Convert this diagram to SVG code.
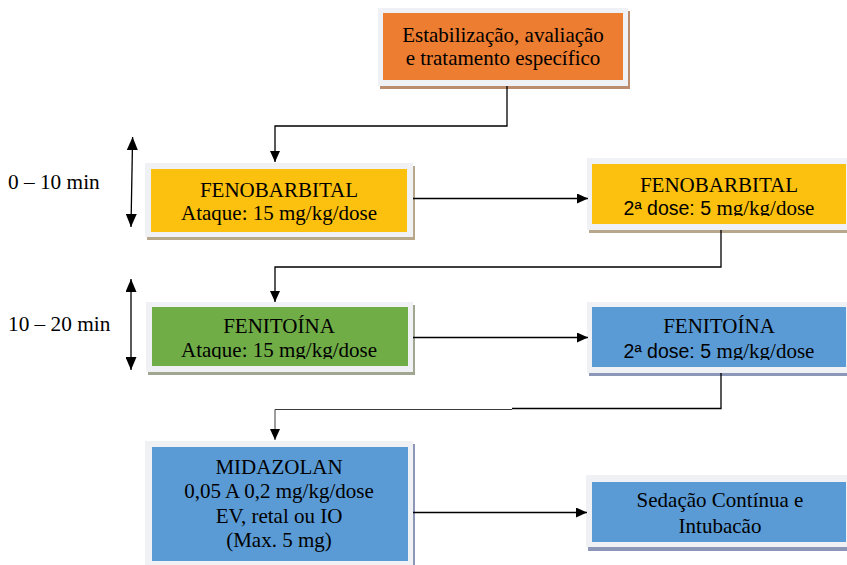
<svg xmlns="http://www.w3.org/2000/svg" width="847" height="565" viewBox="0 0 847 565">
  <style>
    .frame { fill: #eff1f4; }
    .t { font-family: "Liberation Serif", "Times New Roman", serif; font-size: 21px; fill: #000; text-anchor: middle; }
    .sans { font-family: "Liberation Sans", Arial, sans-serif; font-size: 19.5px; }
    .side { font-family: "Liberation Serif", "Times New Roman", serif; font-size: 21.3px; fill: #000; }
    .edge { fill: none; stroke: #000; stroke-width: 1.3; }
  </style>
  <defs>
    <marker id="arrow" viewBox="0 0 11 10" refX="11" refY="5" markerWidth="11" markerHeight="10" markerUnits="userSpaceOnUse" orient="auto-start-reverse">
      <path d="M0,0 L11,5 L0,10 Z" fill="#000"/>
    </marker>
    <marker id="arrowTall" viewBox="0 0 13 11" refX="13" refY="5.5" markerWidth="13" markerHeight="11" markerUnits="userSpaceOnUse" orient="auto-start-reverse">
      <path d="M0,0 L13,5.5 L0,11 Z" fill="#000"/>
    </marker>
    <clipPath id="clipFenoDose"><rect x="592" y="164" width="254" height="52"/></clipPath>
    <clipPath id="clipFeniAtaque"><rect x="152" y="307" width="256" height="52"/></clipPath>
    <clipPath id="clipFeniDose"><rect x="592" y="307" width="254" height="53"/></clipPath>
  </defs>

  <rect width="847" height="565" fill="#ffffff"/>

  <!-- time scale -->
  <g id="time-0-10">
    <text class="side" x="8" y="189">0 – 10 min</text>
    <line class="edge" x1="132.6" y1="137" x2="131" y2="227" marker-start="url(#arrowTall)" marker-end="url(#arrowTall)"/>
  </g>
  <g id="time-10-20">
    <text class="side" x="8" y="331">10 – 20 min</text>
    <line class="edge" x1="131" y1="279" x2="131" y2="370" marker-start="url(#arrowTall)" marker-end="url(#arrowTall)"/>
  </g>

  <!-- nodes -->
  <g id="estabilizacao">
    <rect x="380" y="11" width="250" height="78" fill="#bb8c6e"/>
    <rect class="frame" x="378" y="8" width="250" height="78"/>
    <rect x="383" y="13" width="240" height="67" fill="#ed7d31"/>
    <text class="t" x="503" y="42">Estabilização, avaliação</text>
    <text class="t" x="503" y="65">e tratamento específico</text>
  </g>

  <g id="fenobarbital-ataque">
    <rect x="147" y="166" width="268" height="74" fill="#b7a78b"/>
    <rect class="frame" x="145" y="163" width="268" height="74"/>
    <rect x="151" y="169" width="256" height="63" fill="#fcc00f"/>
    <text class="t" x="279" y="197">FENOBARBITAL</text>
    <text class="t" x="279" y="220">Ataque: 15 mg/kg/dose</text>
  </g>

  <g id="fenobarbital-dose2">
    <rect x="589" y="161" width="264" height="72" fill="#b7a78b"/>
    <rect class="frame" x="587" y="158" width="264" height="72"/>
    <rect x="592" y="164" width="254" height="60" fill="#fcc00f"/>
    <text class="t" x="719" y="192">FENOBARBITAL</text>
    <text class="t" x="719" y="215" clip-path="url(#clipFenoDose)"><tspan class="sans">2ª dose: 5 </tspan>mg/kg/dose</text>
  </g>

  <g id="fenitoina-ataque">
    <rect x="148" y="305" width="267" height="70" fill="#a0a690"/>
    <rect class="frame" x="146" y="302" width="267" height="70"/>
    <rect x="152" y="307" width="256" height="59" fill="#70ad47"/>
    <text class="t" x="279" y="333">FENITOÍNA</text>
    <text class="t" x="279" y="357" clip-path="url(#clipFeniAtaque)">Ataque: 15 mg/kg/dose</text>
  </g>

  <g id="fenitoina-dose2">
    <rect x="589" y="305" width="264" height="71" fill="#8c97b8"/>
    <rect class="frame" x="587" y="302" width="264" height="71"/>
    <rect x="592" y="307" width="254" height="60" fill="#5b9bd5"/>
    <text class="t" x="719" y="333">FENITOÍNA</text>
    <text class="t" x="719" y="358" clip-path="url(#clipFeniDose)"><tspan class="sans">2ª dose: 5 </tspan>mg/kg/dose</text>
  </g>

  <g id="midazolan">
    <rect x="147" y="444" width="268" height="125" fill="#8c97b8"/>
    <rect class="frame" x="145" y="441" width="268" height="125"/>
    <rect x="152" y="447" width="256" height="114" fill="#5b9bd5"/>
    <text class="t" x="279" y="474">MIDAZOLAN</text>
    <text class="t" x="279" y="498">0,05 A 0,2 mg/kg/dose</text>
    <text class="t" x="279" y="523">EV, retal ou IO</text>
    <text class="t" x="279" y="547">(Max. 5 mg)</text>
  </g>

  <g id="sedacao">
    <rect x="588" y="478" width="265" height="73" fill="#8c97b8"/>
    <rect class="frame" x="586" y="475" width="265" height="72"/>
    <rect x="592" y="482" width="254" height="60" fill="#5b9bd5"/>
    <text class="t" x="720" y="507">Sedação Contínua e</text>
    <text class="t" x="720" y="533">Intubacão</text>
  </g>

  <!-- connectors -->
  <g id="connectors">
    <polyline class="edge" points="507,86 507,126 275,126 275,162" marker-end="url(#arrow)"/>
    <line class="edge" x1="413" y1="198.5" x2="588" y2="198.5" marker-end="url(#arrow)"/>
    <polyline class="edge" points="721,230 721,267 275,267 275,302" marker-end="url(#arrow)"/>
    <line class="edge" x1="413" y1="337.5" x2="588" y2="337.5" marker-end="url(#arrow)"/>
    <polyline class="edge" points="721,373 721,408.5 512,408.5"/>
    <polyline points="512,409.5 275,409.5 275,440" fill="none" stroke="#3a3a3a" stroke-width="1" marker-end="url(#arrow)"/>
    <line class="edge" x1="413" y1="512.5" x2="587" y2="512.5" marker-end="url(#arrow)"/>
  </g>
</svg>
